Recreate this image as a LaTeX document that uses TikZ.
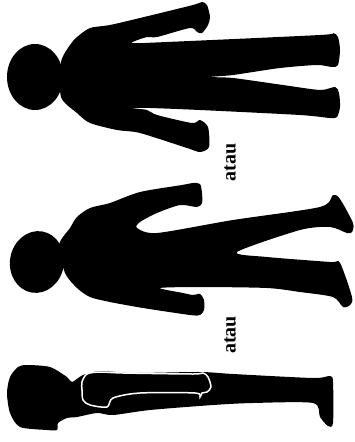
\documentclass[tikz,border=0pt]{standalone}
\usepackage{fontspec}
\setmainfont{Liberation Serif}
\begin{document}
\begin{tikzpicture}[x=1pt,y=-1pt,
  figure/.style={fill=black},
  outline/.style={draw=white,line width=1.5pt},
  word/.style={font=\fontsize{20}{22}\selectfont\bfseries,rotate=90,inner sep=0pt}]
\useasboundingbox (0,0) rectangle (355,442);

% standing figure, arms down
\fill[figure] (35,77) ellipse [x radius=28, y radius=33];
\fill[figure] plot[smooth cycle,tension=0.45] coordinates {
 (61,62) (70,45) (77,37) (90,28) (110,25) (140,18) (193,5) (202,2) (207,5)
 (210,17) (208,25) (202,33) (197,32) (190,28) (157,37) (147,37) (132,43)
 (167,42) (320,35) (333,33) (338,37) (340,50) (338,65) (332,67) (317,65)
 (280,68) (233,75) (210,77) (233,78) (283,85) (320,90) (335,87) (339,93)
 (340,107) (337,117) (330,118) (300,115) (200,110) (150,108) (132,108)
 (147,110) (157,115) (192,123) (200,120) (208,127) (209,147) (200,152)
 (187,148) (140,133) (117,130) (90,123) (77,113) (61,97)};

% figure with the feet turned outwards
\fill[figure,rotate around={-10:(37,262)}] (37,262) ellipse [x radius=27, y radius=31];
\fill[figure] plot[smooth cycle,tension=0.45] coordinates {
 (59,245) (70,228) (77,217) (90,208) (110,203) (140,192) (182,185) (193,183)
 (200,184) (202,193) (202,203) (197,207) (180,205) (157,213) (140,222)
 (137,228) (157,233) (233,220) (320,207) (333,195) (340,199) (353,223)
 (352,232) (347,233) (330,227) (300,230) (237,252) (267,257) (330,262)
 (340,263) (352,297) (350,305) (343,307) (333,297) (300,292) (267,288)
 (200,287) (160,288) (183,293) (193,295) (200,294) (204,300) (204,310)
 (200,315) (190,315) (143,308) (110,302) (90,297) (77,288) (65,273)};

% side view with the arm outlined
\fill[figure] plot[smooth cycle,tension=0.45] coordinates {
 (72,382) (83,375) (100,371) (133,373) (200,372) (233,374) (313,378)
 (330,376) (333,382) (333,423) (328,426) (320,417) (313,403) (253,403)
 (213,405) (150,410) (113,415) (97,413) (77,417) (67,418) (58,423)
 (57,430) (47,430) (20,427) (10,413) (7,393) (10,377) (18,367) (27,365)
 (50,367) (67,377)};
\draw[outline] plot[smooth cycle,tension=0.5] coordinates {
 (82,382) (87,374) (100,372) (123,373) (193,374) (203,373) (208,377)
 (211,387) (207,392) (202,393) (200,397) (195,393) (140,393) (113,398)
 (107,407) (90,405) (83,400) (82,390)};

% connecting words
\node[word] (or1) at (230,162.5) {atau};
\node[word] (or2) at (230,335) {atau};
\end{tikzpicture}
\end{document}
